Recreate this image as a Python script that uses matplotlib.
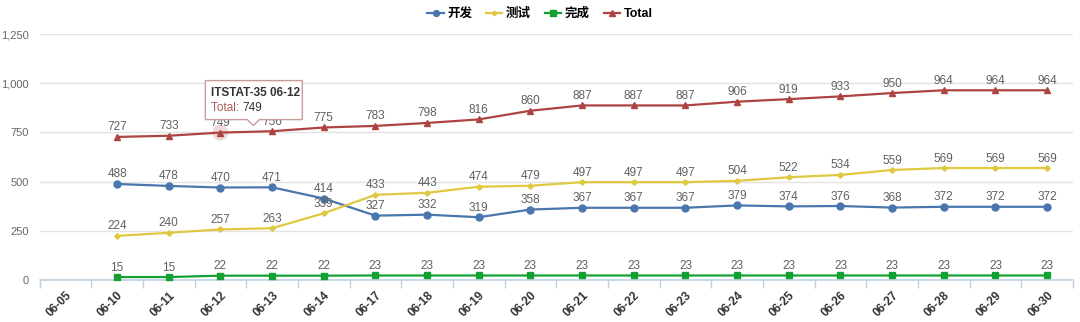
import matplotlib
matplotlib.use("Agg")
import matplotlib.pyplot as plt
from matplotlib.patches import Polygon, Circle
from matplotlib.ticker import FuncFormatter, FixedLocator
import numpy as np

plt.rcParams['font.family'] = ['Liberation Sans', 'Noto Sans CJK SC', 'DejaVu Sans']

dates = ["06-05", "06-10", "06-11", "06-12", "06-13", "06-14", "06-17", "06-18",
         "06-19", "06-20", "06-21", "06-22", "06-23", "06-24", "06-25", "06-26",
         "06-27", "06-28", "06-29", "06-30"]

# no data for 06-05
dev = [None, 488, 478, 470, 471, 414, 327, 332, 319, 358, 367, 367, 367, 379, 374, 376, 368, 372, 372, 372]
test = [None, 224, 240, 257, 263, 339, 433, 443, 474, 479, 497, 497, 497, 504, 522, 534, 559, 569, 569, 569]
done = [None, 15, 15, 22, 22, 22, 23, 23, 23, 23, 23, 23, 23, 23, 23, 23, 23, 23, 23, 23]
total = [None, 727, 733, 749, 756, 775, 783, 798, 816, 860, 887, 887, 887, 906, 919, 933, 950, 964, 964, 964]

series = [
    ("开发", dev, "#4a76ae", "o", 5),
    ("测试", test, "#e0c840", "D", 2.8),
    ("完成", done, "#15a034", "s", 4.8),
    ("Total", total, "#ad4441", "^", 5),
]

fig = plt.figure(figsize=(10.8, 3.22), dpi=100)
ax = fig.add_axes([39.5 / 1080, 1 - 280 / 322, (1073 - 39.5) / 1080, 246 / 322])

x = np.arange(len(dates))
handles = []
for name, vals, color, marker, ms in series:
    xs = [i for i, v in zip(x, vals) if v is not None]
    ys = [v for v in vals if v is not None]
    h, = ax.plot(xs, ys, color=color, lw=1.6, marker=marker, markersize=ms,
                 clip_on=False, zorder=3, label=name)
    handles.append(h)
    for xi, yi in zip(xs, ys):
        ax.annotate(str(yi), (xi, yi), xytext=(0, 2.5), textcoords="offset points",
                    ha="center", va="bottom", fontsize=8.5, color="#606060", zorder=4)

ax.set_xlim(-0.5, len(dates) - 0.5)
ax.set_ylim(0, 1250)
ax.set_yticks([0, 250, 500, 750, 1000, 1250])
ax.yaxis.set_major_formatter(FuncFormatter(lambda v, p: f"{int(v):,}"))
ax.tick_params(axis="y", length=0, labelsize=8, labelcolor="#666666", pad=7.5)
ax.grid(axis="y", color="#e3e3e3", lw=1)
ax.set_axisbelow(True)

ax.set_xticks(x)
ax.set_xticklabels(dates, rotation=45, ha="right", rotation_mode="anchor",
                   fontsize=8.5, fontweight="bold", color="#333333")
ax.tick_params(axis="x", which="major", length=0, pad=7)
ax.xaxis.set_minor_locator(FixedLocator(np.arange(-0.5, len(dates), 1)))
ax.tick_params(axis="x", which="minor", length=6, color="#c0d0e0", width=1)

for side in ["top", "right", "left"]:
    ax.spines[side].set_visible(False)
ax.spines["bottom"].set_color("#c0d0e0")
ax.spines["bottom"].set_linewidth(1.2)

fig.legend(handles=handles, loc="center", bbox_to_anchor=(0.5, 1 - 14 / 322),
           ncol=4, frameon=False, handlelength=1.3, handletextpad=0.3,
           columnspacing=1.1, markerscale=0.85, prop={"size": 9, "weight": "bold"})

# hover tooltip on the 06-12 Total point
idx = 3
fig.canvas.draw()
px, py = ax.transData.transform((x[idx], total[idx]))
halo = Circle((px, py), 8, transform=None, facecolor="#ad4441", alpha=0.2,
              edgecolor="none", zorder=2)
fig.patches.append(halo)
left, right, bottom, top = px - 15, px + 82, py + 13, py + 52
tip_x = px + 33
box = Polygon([(left, bottom), (tip_x - 6, bottom), (tip_x, py + 7), (tip_x + 6, bottom),
               (right, bottom), (right, top), (left, top)],
              closed=True, transform=None, facecolor="white", edgecolor="#c89a9a",
              lw=1, zorder=10)
fig.patches.append(box)
fig.text((left + 6) / 1080, (top - 12) / 322, f"ITSTAT-35 {dates[idx]}",
         fontsize=8.5, fontweight="bold", color="#333333", va="center", zorder=11)
t1 = fig.text((left + 6) / 1080, (top - 27) / 322, "Total: ", fontsize=8.5,
              color="#b05a58", va="center", zorder=11)
fig.canvas.draw()
bb = t1.get_window_extent()
fig.text(bb.x1 / 1080, (top - 27) / 322, str(total[idx]), fontsize=8.5,
         color="#333333", va="center", zorder=11)

fig.savefig("out.png", dpi=100)
